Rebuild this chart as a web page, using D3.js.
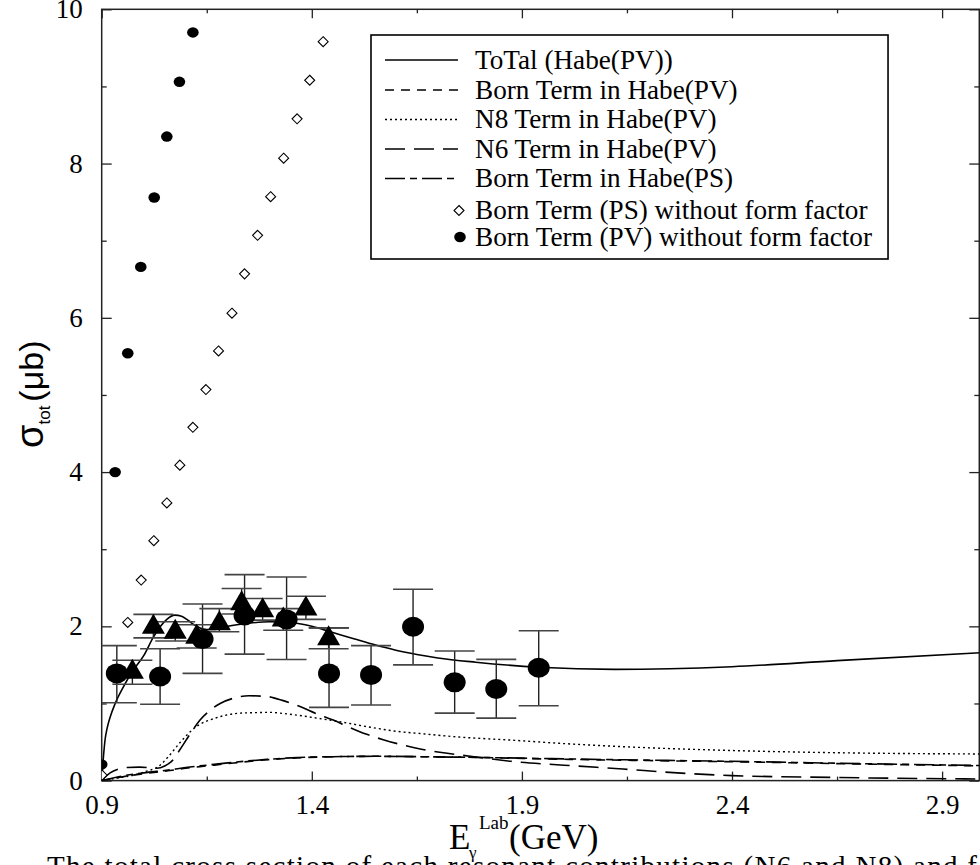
<!DOCTYPE html>
<html>
<head>
<meta charset="utf-8">
<script src="https://cdn.jsdelivr.net/npm/d3@7"></script>
<style>
  html, body { margin: 0; padding: 0; background: #fff; }
  svg { display: block; }
</style>
</head>
<body>
<script>
// ---------------- DATA ----------------
const xTickMajor = [0.9, 1.4, 1.9, 2.4, 2.9];
const xTickMinor = [1.15, 1.65, 2.15, 2.65];
const yTickMajor = [0, 2, 4, 6, 8, 10];
const yTickMinor = [1, 3, 5, 7, 9];

const legendLabels = [
  "ToTal (Habe(PV))",
  "Born Term in Habe(PV)",
  "N8 Term in Habe(PV)",
  "N6 Term in Habe(PV)",
  "Born Term in Habe(PS)",
  "Born Term (PS) without form factor",
  "Born Term (PV) without form factor"
];

// Total (Habe(PV)) - solid
const totalX = [0.900,0.904,0.908,0.913,0.920,0.932,0.950,0.975,1.000,1.023,1.040,1.055,1.074,1.090,1.105,1.120,1.134,1.150,1.170,1.200,1.250,1.300,1.350,1.400,1.450,1.500,1.550,1.600,1.650,1.700,1.790,1.940,2.120,2.400,2.650,3.000];
const totalY = [0.00,0.30,0.53,0.68,0.82,1.00,1.20,1.43,1.62,1.86,2.00,2.09,2.145,2.13,2.08,2.02,1.98,1.96,1.96,2.00,2.04,2.06,2.05,2.00,1.92,1.84,1.76,1.69,1.635,1.59,1.535,1.47,1.442,1.477,1.555,1.66];

// Born term in Habe(PV) - short dashes
const bornPVX = [0.90,0.95,1.00,1.063,1.10,1.15,1.20,1.293,1.35,1.45,1.55,1.658,1.80,1.963,2.20,2.40,2.653,3.0];
const bornPVY = [0.00,0.05,0.09,0.13,0.16,0.19,0.22,0.27,0.29,0.31,0.315,0.31,0.30,0.28,0.26,0.245,0.22,0.19];

// N8 term - dotted
const n8X = [0.90,0.94,0.975,1.00,1.039,1.06,1.086,1.11,1.134,1.165,1.197,1.23,1.26,1.30,1.332,1.37,1.412,1.47,1.531,1.60,1.658,1.75,1.874,2.00,2.14,2.40,2.667,3.0];
const n8Y = [0.00,0.035,0.07,0.11,0.20,0.32,0.49,0.63,0.73,0.80,0.85,0.875,0.88,0.885,0.87,0.845,0.81,0.76,0.70,0.64,0.61,0.565,0.525,0.48,0.44,0.39,0.36,0.345];

// N6 term - long dashes
const n6X = [0.90,0.92,0.94,0.96,0.99,1.031,1.05,1.07,1.086,1.11,1.134,1.16,1.182,1.215,1.25,1.293,1.33,1.372,1.41,1.451,1.49,1.531,1.57,1.61,1.658,1.70,1.786,1.874,2.00,2.14,2.27,2.40,2.653,3.0];
const n6Y = [0.00,0.10,0.15,0.17,0.175,0.16,0.19,0.27,0.40,0.60,0.785,0.92,1.00,1.07,1.10,1.09,1.04,0.96,0.87,0.785,0.69,0.60,0.53,0.47,0.41,0.37,0.31,0.25,0.20,0.15,0.10,0.065,0.04,0.02];

// Born term in Habe(PS) - dash-dot
const bornPSX = [0.90,0.95,1.00,1.063,1.10,1.15,1.20,1.293,1.35,1.45,1.55,1.658,1.80,1.963,2.20,2.40,2.653,3.0];
const bornPSY = [0.00,0.06,0.10,0.14,0.17,0.20,0.23,0.275,0.295,0.31,0.315,0.31,0.30,0.285,0.265,0.25,0.225,0.195];

// Born term (PS) without form factor - open diamonds
const psNoFFX = [0.901,0.931,0.962,0.994,1.024,1.055,1.086,1.117,1.148,1.178,1.210,1.240,1.271,1.302,1.333,1.365,1.395,1.427];
const psNoFFY = [0.07,1.40,2.05,2.60,3.11,3.60,4.09,4.58,5.07,5.57,6.06,6.57,7.07,7.57,8.07,8.58,9.08,9.58];

// Born term (PV) without form factor - small filled dots
const pvNoFFX = [0.900,0.932,0.962,0.993,1.025,1.055,1.085,1.117];
const pvNoFFY = [0.21,4.00,5.54,6.66,7.56,8.35,9.06,9.70];

// Experimental data: filled circles
const expCircX  = [0.936,1.039,1.140,1.240,1.340,1.441,1.541,1.641,1.740,1.839,1.940];
const expCircY  = [1.39,1.35,1.835,2.14,2.09,1.39,1.37,1.995,1.274,1.187,1.463];
const expCircLo = [1.01,0.99,1.39,1.64,1.57,0.95,0.98,1.50,0.875,0.81,0.97];
const expCircHi = [1.75,1.71,2.29,2.67,2.64,1.98,1.75,2.48,1.68,1.572,1.943];

// Experimental data: filled triangles
const expTriX  = [0.973,1.023,1.075,1.126,1.180,1.233,1.283,1.332,1.386,1.440];
const expTriY  = [1.41,1.995,1.93,1.865,2.04,2.30,2.21,2.09,2.23,1.845];
const expTriLo = [1.25,1.85,1.81,1.72,1.93,2.16,2.08,1.95,2.09,1.71];
const expTriHi = [1.56,2.155,2.06,2.02,2.23,2.49,2.36,2.23,2.39,1.98];

// ---------------- LAYOUT ----------------
const W = 980, H = 865;
const L = 101.7, R = 979.3, T = 9.3, B = 780.6;
const serif = "'Liberation Serif','Times New Roman',Times,serif";
const sans = "'Liberation Sans',Arial,Helvetica,sans-serif";

const x = d3.scaleLinear().domain([0.9, 0.9 + (R - L) / 420.2]).range([L, R]);
const y = d3.scaleLinear().domain([0, 10]).range([B, T]);

const svg = d3.select("body").append("svg")
  .attr("width", W).attr("height", H)
  .attr("viewBox", `0 0 ${W} ${H}`);

svg.append("defs").append("clipPath").attr("id", "clip")
  .append("rect").attr("x", L).attr("y", T).attr("width", R - L).attr("height", B - T);

// ---------------- AXES ----------------
function styleAxis(g) {
  g.select(".domain").remove();
  g.selectAll(".tick line").attr("stroke", "#222").attr("stroke-width", 1.3);
  g.selectAll("text").attr("font-family", serif).attr("font-size", 27).attr("fill", "#000");
}
svg.append("g").attr("transform", `translate(0,${B})`)
  .call(d3.axisBottom(x).tickValues(xTickMajor).tickSize(-9).tickPadding(14).tickFormat(d3.format(".1f")))
  .call(styleAxis);
svg.append("g").attr("transform", `translate(0,${B})`)
  .call(d3.axisBottom(x).tickValues(xTickMinor).tickSize(-4).tickFormat(""))
  .call(styleAxis);
svg.append("g").attr("transform", `translate(0,${T})`)
  .call(d3.axisTop(x).tickValues(xTickMajor).tickSize(-9).tickFormat(""))
  .call(styleAxis);
svg.append("g").attr("transform", `translate(0,${T})`)
  .call(d3.axisTop(x).tickValues(xTickMinor).tickSize(-4).tickFormat(""))
  .call(styleAxis);
svg.append("g").attr("transform", `translate(${L},0)`)
  .call(d3.axisLeft(y).tickValues(yTickMajor).tickSize(-10).tickPadding(19).tickFormat(d3.format("d")))
  .call(styleAxis);
svg.append("g").attr("transform", `translate(${L},0)`)
  .call(d3.axisLeft(y).tickValues(yTickMinor).tickSize(-5).tickFormat(""))
  .call(styleAxis);
svg.append("g").attr("transform", `translate(${R},0)`)
  .call(d3.axisRight(y).tickValues(yTickMajor).tickSize(-10).tickFormat(""))
  .call(styleAxis);
svg.append("g").attr("transform", `translate(${R},0)`)
  .call(d3.axisRight(y).tickValues(yTickMinor).tickSize(-5).tickFormat(""))
  .call(styleAxis);

// frame
svg.append("rect").attr("x", L).attr("y", T).attr("width", R - L).attr("height", B - T)
  .attr("fill", "none").attr("stroke", "#222").attr("stroke-width", 1.5);

// ---------------- CURVES ----------------
const plot = svg.append("g").attr("clip-path", "url(#clip)");
const line = d3.line().x(d => x(d[0])).y(d => y(d[1])).curve(d3.curveMonotoneX);
const zip = (a, b) => a.map((v, i) => [v, b[i]]);

const curves = [
  { xs: totalX, ys: totalY, dash: null, w: 1.6 },
  { xs: bornPVX, ys: bornPVY, dash: "9,7", w: 1.6 },
  { xs: n8X, ys: n8Y, dash: "2,3", w: 1.4 },
  { xs: n6X, ys: n6Y, dash: "20,9", w: 1.6 },
  { xs: bornPSX, ys: bornPSY, dash: "20,5,7,5", w: 1.6 }
];
curves.forEach(c => {
  plot.append("path").datum(zip(c.xs, c.ys))
    .attr("d", line).attr("fill", "none").attr("stroke", "#000")
    .attr("stroke-width", c.w).attr("stroke-dasharray", c.dash);
});

// ---------------- ERROR BARS ----------------
function errBars(xs, lo, hi) {
  const g = plot.append("g");
  xs.forEach((v, i) => {
    g.append("line").attr("x1", x(v)).attr("x2", x(v)).attr("y1", y(lo[i])).attr("y2", y(hi[i]))
      .attr("stroke", "#222").attr("stroke-width", 1.4);
    [lo[i], hi[i]].forEach(e => {
      g.append("line").attr("x1", x(v) - 20).attr("x2", x(v) + 20).attr("y1", y(e)).attr("y2", y(e))
        .attr("stroke", "#444").attr("stroke-width", 1.6);
    });
  });
}
errBars(expCircX, expCircLo, expCircHi);
errBars(expTriX, expTriLo, expTriHi);

// ---------------- MARKERS ----------------
plot.append("g").selectAll("path").data(zip(psNoFFX, psNoFFY)).join("path")
  .attr("transform", d => `translate(${x(d[0])},${y(d[1])})`)
  .attr("d", "M0,-5L5,0L0,5L-5,0Z")
  .attr("fill", "#fff").attr("stroke", "#000").attr("stroke-width", 1.1);
plot.append("g").selectAll("ellipse").data(zip(pvNoFFX, pvNoFFY)).join("ellipse")
  .attr("cx", d => x(d[0])).attr("cy", d => y(d[1])).attr("rx", 5.8).attr("ry", 5.2)
  .attr("fill", "#000");
plot.append("g").selectAll("path").data(zip(expTriX, expTriY)).join("path")
  .attr("transform", d => `translate(${x(d[0])},${y(d[1])})`)
  .attr("d", "M0,-13L11.5,7L-11.5,7Z").attr("fill", "#000");
plot.append("g").selectAll("ellipse").data(zip(expCircX, expCircY)).join("ellipse")
  .attr("cx", d => x(d[0])).attr("cy", d => y(d[1])).attr("rx", 11).attr("ry", 10)
  .attr("fill", "#000");

// ---------------- LEGEND ----------------
const lg = svg.append("g");
const rowY = [60, 90, 119.5, 149, 178.5, 210.5, 237];
const legBox = lg.append("rect").attr("x", 371).attr("y", 35).attr("height", 224)
  .attr("fill", "#fff").attr("stroke", "#000").attr("stroke-width", 1.6);
const legDash = [null, "9,7", "2,3", "20,9", "20,5,7,5"];
legDash.forEach((d, i) => {
  lg.append("line").attr("x1", 385).attr("x2", 458).attr("y1", rowY[i]).attr("y2", rowY[i])
    .attr("stroke", "#000").attr("stroke-width", 1.5).attr("stroke-dasharray", d);
});
lg.append("path").attr("transform", `translate(459,${rowY[5]})`).attr("d", "M0,-5L5,0L0,5L-5,0Z")
  .attr("fill", "#fff").attr("stroke", "#000").attr("stroke-width", 1.1);
lg.append("ellipse").attr("cx", 460).attr("cy", rowY[6]).attr("rx", 5.8).attr("ry", 5.2).attr("fill", "#000");
let maxR = 0;
legendLabels.forEach((t, i) => {
  const tx = lg.append("text").attr("x", 475).attr("y", rowY[i] + 8.8)
    .attr("font-family", serif).attr("font-size", 27.2).text(t);
  const bb = tx.node().getBBox();
  maxR = Math.max(maxR, bb.x + bb.width);
});
legBox.attr("width", maxR + 16 - 371);

// ---------------- AXIS TITLES ----------------
const xt = svg.append("text").attr("font-family", serif).attr("fill", "#000");
xt.append("tspan").attr("x", 449).attr("y", 849).attr("font-size", 35).text("E");
xt.append("tspan").attr("x", 469).attr("y", 858).attr("font-size", 17).text("γ");
xt.append("tspan").attr("x", 479).attr("y", 829).attr("font-size", 19).text("Lab");
xt.append("tspan").attr("x", 509).attr("y", 849).attr("font-size", 35).text("(GeV)");

const yt = svg.append("text").attr("transform", "translate(43,448) rotate(-90)")
  .attr("font-family", sans).attr("fill", "#000");
yt.append("tspan").attr("font-size", 38).text("σ");
yt.append("tspan").attr("font-size", 17).attr("dy", 7).text("tot");
yt.append("tspan").attr("font-size", 34).attr("dy", -7).attr("dx", 4).text("(μb)");

// caption (cut by the page bottom)
svg.append("text").attr("x", 47).attr("y", 876).attr("font-family", serif).attr("font-size", 29)
  .attr("textLength", 930).attr("lengthAdjust", "spacing")
  .text("The total cross section of each resonant contributions (N6 and N8) and f");
</script>
</body>
</html>
